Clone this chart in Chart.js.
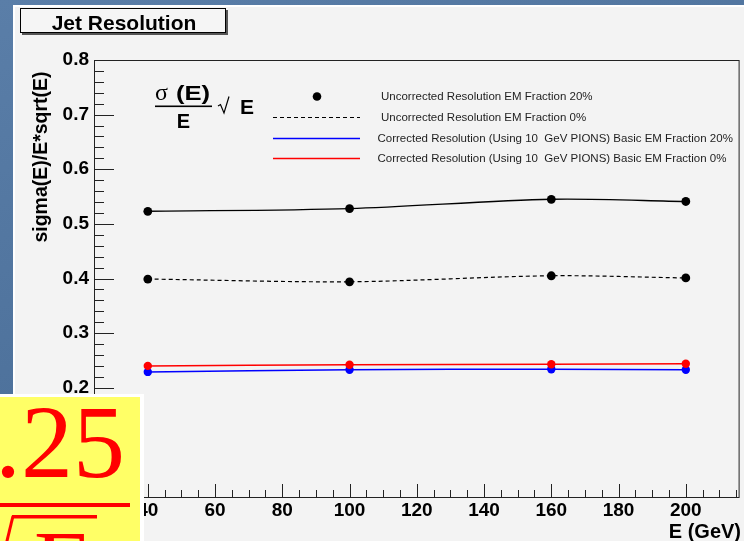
<!DOCTYPE html>
<html>
<head>
<meta charset="utf-8">
<script src="https://cdn.jsdelivr.net/npm/chart.js@4.4.1/dist/chart.umd.min.js"></script>
<style>
  html, body { margin: 0; padding: 0; }
  body { width: 744px; height: 541px; overflow: hidden; position: relative;
         background: linear-gradient(160deg, #5a7ea8 0%, #4e729c 50%, #587ba4 100%); }
  #pad { position: absolute; left: 13px; top: 5px; width: 731px; height: 536px;
         background: #f3f3f3; border-left: 2px solid #fff; border-top: 2px solid #fff; box-sizing: border-box; }
  #jetChart { position: absolute; left: 0; top: 0; }
</style>
</head>
<body>
<div id="pad"></div>
<canvas id="jetChart" width="744" height="541"></canvas>
<script>
// values
const energies = [40, 100, 160, 200];
const uncorrEm20 = [0.523, 0.528, 0.545, 0.541];
const uncorrEm0 = [0.399, 0.394, 0.405, 0.401];
const corrEm20 = [0.229, 0.233, 0.234, 0.233];
const corrEm0 = [0.240, 0.242, 0.243, 0.244];

const xTickValues = [40, 60, 80, 100, 120, 140, 160, 180, 200];
const yTickValues = [0, 0.1, 0.2, 0.3, 0.4, 0.5, 0.6, 0.7, 0.8];

const seriesLabels = [
    'Uncorrected Resolution EM Fraction 20%',
    'Uncorrected Resolution EM Fraction 0%',
    'Corrected Resolution (Using 10  GeV PIONS) Basic EM Fraction 20%',
    'Corrected Resolution (Using 10  GeV PIONS) Basic EM Fraction 0%'
];

const FONT = '"Liberation Sans", Arial, Helvetica, sans-serif';
const SERIF = '"Liberation Serif", "Times New Roman", serif';

const pts = (ys) => energies.map((e, i) => ({x: e, y: ys[i]}));

// ticks pointing into the frame, major + minor, like ROOT
const rootAxes = {
    id: 'rootAxes',
    afterDatasetsDraw(chart) {
        const {ctx, chartArea: a, scales: {x, y}} = chart;
        ctx.save();
        ctx.strokeStyle = '#222';
        ctx.lineWidth = 1;
        ctx.strokeRect(a.left + 0.5, a.top + 0.5, a.right - a.left - 1, a.bottom - a.top);

        ctx.beginPath();
        for (let i = 0; i <= 40; i++) {
            const py = Math.round(y.getPixelForValue(i * 0.02)) + 0.5;
            const len = (i % 5 === 0) ? 20 : 10;
            ctx.moveTo(a.left, py);
            ctx.lineTo(a.left + len, py);
        }
        for (let i = 5; i <= 43; i++) {
            const v = i * 5;
            const px = Math.round(x.getPixelForValue(v)) + 0.5;
            const len = (v % 20 === 0) ? 13 : 7;
            ctx.moveTo(px, a.bottom);
            ctx.lineTo(px, a.bottom - len);
        }
        ctx.stroke();

        // axis titles
        ctx.fillStyle = '#000';
        ctx.font = 'bold 20px ' + FONT;
        ctx.textAlign = 'right';
        ctx.textBaseline = 'alphabetic';
        ctx.fillText('E (GeV)', 741, 538);

        ctx.save();
        ctx.translate(47, 157);
        ctx.rotate(-Math.PI / 2);
        ctx.textAlign = 'center';
        ctx.font = 'bold 19.5px ' + FONT;
        ctx.fillText('sigma(E)/E*sqrt(E)', 0, 0);
        ctx.restore();
        ctx.restore();
    }
};

// formula, legend, title box and the slide's yellow note
const decorations = {
    id: 'decorations',
    afterDraw(chart) {
        const ctx = chart.ctx;
        const ds = chart.data.datasets;
        ctx.save();

        // sigma(E)/E * sqrt(E)
        ctx.fillStyle = '#000';
        ctx.textBaseline = 'alphabetic';
        ctx.textAlign = 'left';
        ctx.font = '24px ' + SERIF;
        ctx.fillText('\u03c3', 155, 99.5);
        ctx.save();
        ctx.translate(176, 99.5);
        ctx.scale(1.22, 1);
        ctx.font = 'bold 21px ' + FONT;
        ctx.fillText('(E)', 0, 0);
        ctx.restore();
        ctx.fillRect(155, 105.5, 57, 1.6);
        ctx.textAlign = 'center';
        ctx.font = 'bold 20px ' + FONT;
        ctx.fillText('E', 183.5, 127.5);
        ctx.beginPath();
        ctx.lineWidth = 1.2;
        ctx.strokeStyle = '#000';
        ctx.moveTo(218, 106);
        ctx.lineTo(220.5, 104.5);
        ctx.lineTo(224, 113);
        ctx.lineTo(229, 96.5);
        ctx.stroke();
        ctx.textAlign = 'left';
        ctx.font = 'bold 21px ' + FONT;
        ctx.fillText('E', 240, 113.5);

        // legend
        const rows = [96.5, 117.5, 138.5, 158.5];
        ctx.beginPath();
        ctx.fillStyle = ds[0].pointBackgroundColor;
        ctx.arc(317, rows[0], 4.3, 0, Math.PI * 2);
        ctx.fill();
        [1, 2, 3].forEach(k => {
            ctx.beginPath();
            ctx.strokeStyle = ds[k].borderColor;
            ctx.lineWidth = ds[k].borderWidth;
            ctx.setLineDash(ds[k].borderDash || []);
            ctx.moveTo(273, rows[k]);
            ctx.lineTo(360, rows[k]);
            ctx.stroke();
        });
        ctx.setLineDash([]);
        ctx.fillStyle = '#1e1e1e';
        ctx.font = '11.5px ' + FONT;
        ctx.textBaseline = 'middle';
        const textX = [381, 381, 377.5, 377.5];
        seriesLabels.forEach((t, k) => ctx.fillText(t, textX[k], rows[k] + 0.5));

        // title box
        ctx.fillStyle = '#555';
        ctx.fillRect(22, 10, 206, 25);
        ctx.fillStyle = '#f5f5f5';
        ctx.fillRect(20, 8, 206, 25);
        ctx.strokeStyle = '#000';
        ctx.lineWidth = 1;
        ctx.strokeRect(20.5, 8.5, 205, 24);
        ctx.fillStyle = '#000';
        ctx.font = 'bold 21px ' + FONT;
        ctx.textAlign = 'center';
        ctx.textBaseline = 'alphabetic';
        ctx.fillText('Jet Resolution', 124, 30);

        // yellow note: .25 / sqrt(E)
        ctx.fillStyle = '#ffffff';
        ctx.fillRect(0, 394, 144, 147);
        ctx.fillStyle = '#ffff66';
        ctx.fillRect(0, 397, 140, 144);
        ctx.fillStyle = '#ff0000';
        ctx.font = '104px ' + SERIF;
        ctx.textAlign = 'left';
        ctx.fillText('.25', -5, 477);
        ctx.fillRect(0, 503, 130, 4);
        ctx.fillRect(12, 515, 85, 3.5);
        ctx.beginPath();
        ctx.strokeStyle = '#ff0000';
        ctx.lineWidth = 3;
        ctx.moveTo(13, 516);
        ctx.lineTo(6, 545);
        ctx.stroke();
        ctx.font = '96px ' + SERIF;
        ctx.fillText('E', 34, 597);
        ctx.restore();
    }
};

new Chart(document.getElementById('jetChart'), {
    type: 'scatter',
    data: {
        datasets: [
            {label: seriesLabels[0], data: pts(uncorrEm20), showLine: true, order: 3,
             borderColor: '#000', borderWidth: 1.4, tension: 0.3,
             pointRadius: 4.4, pointBackgroundColor: '#000', pointBorderWidth: 0},
            {label: seriesLabels[1], data: pts(uncorrEm0), showLine: true, order: 2,
             borderColor: '#000', borderWidth: 1.2, borderDash: [4, 3], tension: 0.3,
             pointRadius: 4.4, pointBackgroundColor: '#000', pointBorderWidth: 0},
            {label: seriesLabels[2], data: pts(corrEm20), showLine: true, order: 1,
             borderColor: '#0000ff', borderWidth: 1.5, tension: 0.3,
             pointRadius: 4.2, pointBackgroundColor: '#0000ff', pointBorderWidth: 0},
            {label: seriesLabels[3], data: pts(corrEm0), showLine: true, order: 0,
             borderColor: '#ff0000', borderWidth: 1.5, tension: 0.3,
             pointRadius: 4.2, pointBackgroundColor: '#ff0000', pointBorderWidth: 0}
        ]
    },
    options: {
        responsive: false,
        animation: false,
        layout: {padding: {top: 60, right: 2, left: 0, bottom: 0}},
        plugins: {legend: {display: false}, tooltip: {enabled: false}},
        scales: {
            x: {
                type: 'linear', min: 24, max: 216,
                afterBuildTicks: (s) => { s.ticks = xTickValues.map(v => ({value: v})); },
                afterFit: (s) => { s.height = 44; },
                grid: {display: false, drawTicks: false},
                border: {display: false},
                ticks: {color: '#000', padding: 2, maxRotation: 0, autoSkip: false,
                        font: {family: FONT, size: 19, weight: 'bold'}}
            },
            y: {
                type: 'linear', min: 0, max: 0.8,
                afterBuildTicks: (s) => { s.ticks = yTickValues.map(v => ({value: v})); },
                afterFit: (s) => { s.width = 94; },
                grid: {display: false, drawTicks: false},
                border: {display: false},
                ticks: {color: '#000', padding: 5, autoSkip: false,
                        font: {family: FONT, size: 19, weight: 'bold'},
                        callback: (v) => v.toFixed(1)}
            }
        }
    },
    plugins: [rootAxes, decorations]
});
</script>
</body>
</html>
